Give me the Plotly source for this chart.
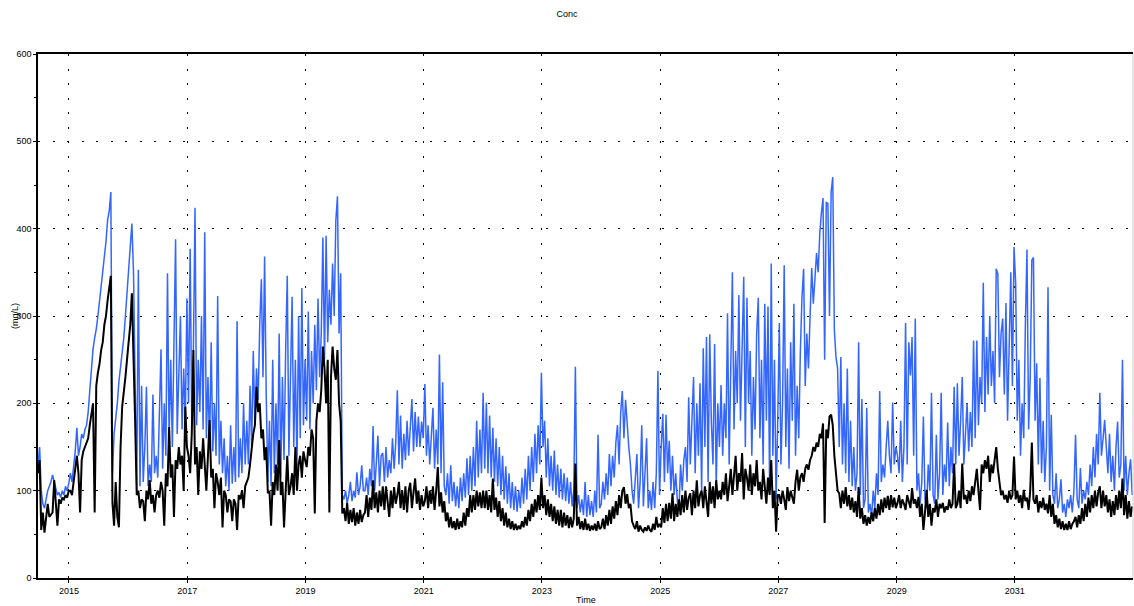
import pandas as pd
import plotly.graph_objects as go

# series sampled every 10 days from the start date
START = "2014-06-24"
STEP = "10D"
X_END = "2032-12-31"

# blue series (mg/L)
conc_blue = [
    130, 150, 100, 85, 80, 90, 100, 105, 110, 118, 110, 100, 95, 98, 92, 100, 95, 105, 100, 108,
    120, 110, 125, 145, 172, 140, 150, 165, 160, 170, 175, 190, 215, 245, 262, 275, 285, 300, 318, 328, 350, 368, 385, 410, 420, 442, 120,
    165, 180, 200, 225, 240, 258, 275, 300, 325, 356, 380, 406, 350, 240,
    100, 353, 105, 220, 110, 150, 219, 105, 130, 110, 210, 120, 140, 115, 180, 262, 125, 200, 140, 349, 160, 250, 150, 290, 388, 165, 230, 300, 170, 240, 180, 320,
    200, 377, 180, 260, 424, 175, 250, 190, 300, 170, 396, 160, 230, 150, 270, 145, 200, 140, 323, 130, 180, 120, 160, 105, 140, 100, 175, 108, 150, 110, 294, 115, 160, 120, 200, 130, 180,
    130, 220, 150, 260, 175, 240, 204, 290, 342, 230, 368, 210, 110, 180, 105, 250, 120, 200, 130, 280, 115, 230, 135, 260, 346, 140, 220, 322, 150, 250, 125, 300, 160, 332, 175, 250,
    180, 305, 170, 260, 200, 290, 215, 320, 230, 280, 390, 250, 392, 270, 330, 290, 360, 300, 409, 437, 280, 349, 95,
    90, 100, 86, 95, 110, 88, 100, 92, 121, 95, 105, 129, 100,
    100, 115, 95, 125, 105, 174, 100, 130, 163, 105, 140, 143, 110, 150, 115, 135, 120, 160, 125, 155, 215, 130, 186, 125, 165, 135, 180, 140, 175, 205, 145, 190, 150, 185, 150, 179, 160,
    222, 140, 175, 130, 160, 195, 125, 170, 130, 256, 120, 224, 105, 95, 120, 85, 129, 88, 110, 82, 105, 80, 115, 88, 120, 92, 137, 95, 140, 100, 150, 105, 180, 115, 170, 120, 212,
    125, 201, 120, 186, 115, 172, 110, 160, 105, 150, 95, 140, 90, 128, 85, 120, 80, 110, 78, 105, 76, 100, 80, 115, 85, 125, 90, 140, 100, 150, 110, 165, 120, 175, 130, 235,
    150, 180, 115, 160, 105, 140, 100, 146, 95, 130, 92, 125, 90, 120, 88, 115, 85, 110, 82, 100, 242, 80, 95, 75, 90, 72, 110, 70, 95, 72, 88, 70, 100, 75, 164, 80,
    85, 110, 90, 120, 95, 142, 105, 140, 115, 155, 175, 130, 190, 214, 160, 204, 170, 150, 130, 100, 85, 120, 142, 80, 110, 175, 82, 120, 160, 80, 100, 78, 110, 80, 120, 237, 95,
    150, 188, 110, 187, 120, 157, 100, 140, 95, 120, 88, 79, 130, 100, 135, 150, 110, 207, 130, 185, 230, 120, 200, 140, 223, 100, 263, 150, 276, 110, 279, 180, 130, 268, 105, 200,
    150, 221, 140, 200, 160, 303, 130, 240, 350, 170, 260, 200, 324, 180, 280, 345, 150, 321, 200, 260, 140, 230, 170, 280, 321, 160, 250, 130, 314, 180, 311, 100, 360, 140, 250, 90, 180,
    292, 130, 200, 358, 150, 240, 125, 270, 180, 314, 140, 220, 160, 260, 322, 354, 220, 280, 240, 300, 355, 314, 340, 372, 350, 395, 418, 435, 250, 430, 429, 300, 442, 459, 284, 253, 240,
    150, 253, 130, 200, 120, 240, 110, 180, 105, 150, 100, 120, 270, 95, 205, 80, 90, 195, 75, 85, 70, 100, 80, 120, 95, 214, 110, 130, 115, 150, 180, 140, 120, 201, 130, 150,
    140, 120, 180, 110, 150, 292, 130, 270, 232, 276, 140, 297, 100, 120, 85, 110, 185, 90, 80, 130, 100, 212, 95, 85, 164, 90, 120, 212, 95, 130, 110, 178, 105, 150, 120, 219, 130,
    223, 140, 180, 230, 130, 160, 200, 145, 190, 150, 272, 160, 272, 175, 230, 200, 338, 190, 276, 210, 300, 220, 260, 200, 354, 348, 230, 280, 297, 210, 315, 180, 260, 350, 220, 379,
    338, 180, 250, 140, 200, 160, 290, 376, 170, 230, 364, 367, 180, 246, 130, 229, 120, 180, 110, 150, 333, 100, 187, 95, 85, 120, 80, 90, 113, 75, 85, 70, 90, 80, 95, 75, 100,
    164, 90, 80, 126, 85, 100, 90, 110, 95, 130, 105, 150, 115, 165, 130, 212, 140, 160, 181, 150, 120, 165, 110, 140, 100, 150, 179, 115, 130, 250, 100, 140, 95, 120, 136, 95,
]

# black series (mg/L)
conc_black = [
    120, 135, 55, 75, 52, 70, 85, 70, 72, 75, 112, 80, 60, 90, 85, 92, 90, 95, 92, 100,
    100, 95, 110, 130, 140, 120, 75, 135, 145, 150, 155, 160, 175, 190, 200, 75, 220, 235, 245, 261, 270, 290, 300, 318, 330, 346, 86,
    60, 110, 70, 58, 150, 196, 210, 230, 250, 270, 290, 326, 260, 180,
    95, 100, 80, 90, 88, 65, 100, 90, 112, 85, 95, 75, 95, 100, 92, 110, 100, 60, 120, 105, 173, 115, 130, 70, 135, 125, 150, 130, 140, 100, 196, 150,
    140, 120, 165, 261, 130, 150, 95, 145, 125, 160, 130, 100, 140, 181, 115, 125, 80, 120, 110, 95, 115, 58, 100, 95, 75, 90, 88, 65, 90, 85, 55, 95, 90, 100, 80, 105, 110,
    115, 130, 150, 165, 175, 219, 190, 200, 160, 170, 135, 150, 97, 100, 60, 110, 95, 130, 100, 158, 95, 110, 58, 100, 140, 95, 105, 120, 95, 150, 100, 130, 140, 115, 145, 135,
    127, 150, 140, 170, 160, 74, 180, 200, 190, 215, 265, 240, 200, 250, 75, 230, 265, 240, 227, 261, 200, 180, 74,
    80, 65, 86, 62, 78, 64, 80, 60, 75, 62, 78, 64, 72,
    75, 95, 70, 92, 78, 112, 80, 98, 75, 100, 82, 105, 78, 105, 85, 70, 100, 80, 104, 85, 95, 110, 80, 100, 78, 105, 75, 100, 109, 80, 98, 114, 85, 100, 78, 95, 82,
    88, 105, 80, 100, 85, 105, 78, 100, 127, 82, 98, 75, 88, 65, 75, 58, 70, 57, 65, 55, 68, 56, 65, 58, 75, 60, 80, 70, 95, 75, 95, 78, 100, 82, 98, 80, 100,
    80, 100, 78, 95, 75, 114, 78, 92, 70, 88, 65, 80, 60, 75, 58, 68, 56, 65, 55, 62, 55, 60, 56, 65, 58, 70, 60, 78, 65, 85, 70, 90, 75, 95, 78, 115,
    80, 95, 72, 90, 70, 85, 65, 82, 62, 78, 60, 78, 58, 75, 60, 72, 57, 70, 58, 68, 131, 60, 70, 56, 65, 55, 68, 55, 62, 54, 60, 55, 62, 54, 65, 56,
    58, 68, 56, 72, 60, 78, 62, 82, 68, 88, 72, 95, 80, 100, 104, 85, 96, 80, 85, 65, 60, 56, 65, 53, 60, 55, 53, 58, 54, 60, 55, 53, 62, 55, 70, 58, 62,
    58, 80, 63, 85, 65, 86, 68, 97, 65, 85, 70, 90, 72, 95, 75, 100, 78, 92, 97, 72, 100, 80, 112, 82, 95, 100, 80, 105, 85, 70, 110, 85, 105, 80, 112, 90,
    100, 90, 110, 95, 120, 88, 105, 125, 95, 115, 140, 100, 120, 110, 143, 90, 125, 115, 100, 130, 95, 120, 105, 135, 100, 110, 90, 125, 100, 85, 115, 95, 135, 80, 100, 53, 95,
    95, 85, 100, 90, 78, 104, 88, 100, 92, 85, 110, 124, 100, 115, 120, 110, 125, 130, 124, 135, 140, 150, 145, 155, 150, 165, 160, 177, 63, 170, 160, 185, 187, 175, 140, 120, 100,
    97, 80, 100, 85, 104, 82, 95, 78, 92, 75, 88, 70, 104, 68, 80, 62, 72, 60, 70, 62, 75, 65, 80, 68, 85, 72, 90, 75, 92, 80, 94, 78, 95, 81, 92, 80,
    86, 95, 80, 90, 85, 78, 95, 88, 80, 103, 85, 90, 80, 93, 70, 85, 55, 75, 101, 70, 85, 60, 80, 75, 90, 70, 85, 80, 86, 75, 82, 78, 90, 80, 85, 131, 80,
    85, 100, 80, 131, 90, 95, 85, 100, 88, 105, 95, 110, 125, 100, 78, 130, 120, 135, 125, 140, 110, 130, 120, 135, 150, 125, 110, 95, 100, 90, 95, 86, 100, 90, 95, 139,
    90, 100, 86, 95, 80, 101, 88, 92, 78, 100, 155, 90, 85, 95, 75, 88, 80, 92, 78, 85, 74, 95, 70, 85, 62, 72, 58, 68, 56, 65, 55, 62, 55, 65, 56, 62, 65,
    70, 58, 72, 62, 80, 65, 85, 70, 92, 75, 95, 80, 100, 82, 98, 105, 80, 100, 82, 95, 75, 90, 70, 88, 72, 95, 78, 100, 80, 114, 72, 95, 68, 88, 70, 82,
]

year_ticks = [2015, 2017, 2019, 2021, 2023, 2025, 2027, 2029, 2031]
y_ticks = [0, 100, 200, 300, 400, 500, 600]

FONT = "Liberation Sans Narrow, Arial Narrow, Liberation Sans, sans-serif"
GRID_DASH = "2px,12.5px"

dates_blue = pd.date_range(START, periods=len(conc_blue), freq=STEP)
dates_black = pd.date_range(START, periods=len(conc_black), freq=STEP)

fig = go.Figure()
fig.add_trace(go.Scatter(x=dates_blue, y=conc_blue, mode="lines",
                         line=dict(color="#3366ff", width=1.5), showlegend=False))
fig.add_trace(go.Scatter(x=dates_black, y=conc_black, mode="lines",
                         line=dict(color="#000000", width=2), showlegend=False))

fig.update_layout(
    width=1134, height=606,
    margin=dict(l=38, r=1, t=54, b=28),
    paper_bgcolor="white", plot_bgcolor="white",
    font=dict(family=FONT, size=9, color="#000000"),
    title=dict(text="Conc", x=0.5, xanchor="center", y=1 - 14 / 606, yref="container",
               yanchor="middle", font=dict(family=FONT, size=9, color="#000000")),
)

fig.update_xaxes(
    range=[START, X_END],
    tickvals=[f"{y}-01-01" for y in year_ticks],
    ticktext=[str(y) for y in year_ticks],
    ticks="outside", ticklen=3, tickcolor="black",
    showgrid=True, gridcolor="black", gridwidth=1, griddash=GRID_DASH,
    showline=True, linecolor="black", linewidth=1.5, mirror=True,
    zeroline=False, automargin=False,
)
fig.update_yaxes(
    range=[0, 600],
    tickvals=y_ticks,
    ticks="outside", ticklen=3, tickcolor="black",
    minor=dict(dtick=50, ticks="outside", ticklen=2, tickcolor="black", showgrid=False),
    showgrid=True, gridcolor="black", gridwidth=1, griddash=GRID_DASH,
    showline=True, linecolor="black", linewidth=1.5,
    zeroline=False, automargin=False,
)

# light right border of the plot frame
fig.add_shape(type="line", xref="paper", yref="paper", x0=1, x1=1, y0=0, y1=1,
              line=dict(color="#cccccc", width=1))

fig.add_annotation(text="Time", xref="paper", yref="paper", x=0.5, y=0, yshift=-22,
                   showarrow=False, xanchor="center", yanchor="middle",
                   font=dict(family=FONT, size=9, color="#000000"))
fig.add_annotation(text="(mg/L)", xref="paper", yref="paper", x=0, y=0.5, xshift=-23,
                   textangle=-90, showarrow=False, xanchor="center", yanchor="middle",
                   font=dict(family=FONT, size=9, color="#000000"))

# the page's default body margin would shift the figure
fig.write_html("out.html", config={"displayModeBar": False},
               post_script="document.body.style.margin='0px';")
